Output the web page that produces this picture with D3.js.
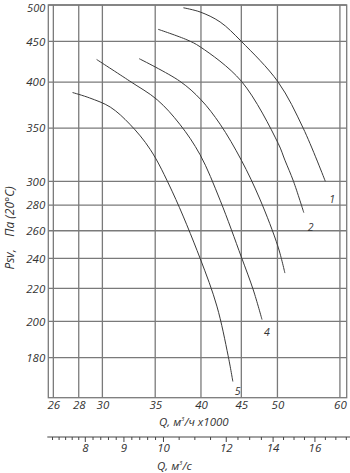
<!DOCTYPE html>
<html>
<head>
<meta charset="utf-8">
<script src="https://cdn.jsdelivr.net/npm/d3@7"></script>
<style>
  html, body { margin: 0; padding: 0; background: #fff; }
  text { font-family: "Open Sans", "DejaVu Sans", sans-serif; font-style: italic; fill: #333; }
</style>
</head>
<body>
<div id="chart"></div>
<script>
// Q in thousand m3/h, P in Pa
const curve1Q = [38.0, 39.9, 42.3, 45.0, 50.1, 53.9, 57.5];
const curve1P = [496, 490, 476, 450, 400, 350, 300];
const curve2Q = [35.3, 38.4, 39.9, 45.0, 50.1, 51.1, 52.4, 54.0];
const curve2P = [466, 452, 443, 401, 335, 319, 300, 274];
const curve3Q = [33.4, 37.6, 40.0, 42.3, 45.0, 47.5, 50.1, 51.1];
const curve3P = [428, 401, 380, 354, 319, 285, 248, 230];
const curve4Q = [29.5, 32.5, 35.2, 37.6, 39.9, 42.3, 45.0, 46.6, 47.8];
const curve4P = [427, 401, 380, 354, 324, 284, 241, 219, 201];
const curve5Q = [27.5, 28.9, 30.7, 32.5, 34.5, 36.8, 39.9, 41.9, 43.3, 43.9];
const curve5P = [388, 382, 372, 354, 329, 291, 240, 209, 181, 168];
const curveNames = ["1", "2", "", "4", "5"];

const xTicks = [26, 28, 30, 35, 40, 45, 50, 60];
const yTicks = [180, 200, 220, 240, 260, 280, 300, 350, 400, 450, 500];

// second scale, m3/s, and where its ticks sit on the main Q axis
const secTicks = [8, 9, 10, 12, 14, 16];
const secRefValues = [7, 8, 9, 10, 12, 14, 16];
const secRefQ = [25.9, 28.5, 31.9, 35.8, 43.0, 49.3, 55.7];

const width = 350, height = 473;
const plotLeft = 48.3, plotRight = 346.7, plotTop = 5, plotBottom = 397.7;

const svg = d3.select("#chart").append("svg")
    .attr("width", width)
    .attr("height", height);

const x = d3.scaleLog().domain([25.62, 61.2]).range([plotLeft, plotRight]);
const y = d3.scaleLog().domain([160.3, 500]).range([plotBottom, plotTop]);

const gridColor = "#7a7a7a";

// grid
svg.append("g").selectAll("line")
    .data(xTicks)
    .join("line")
    .attr("x1", d => x(d)).attr("x2", d => x(d))
    .attr("y1", plotTop).attr("y2", plotBottom)
    .attr("stroke", gridColor).attr("stroke-width", 1.3);

svg.append("g").selectAll("line")
    .data(yTicks)
    .join("line")
    .attr("x1", plotLeft).attr("x2", plotRight)
    .attr("y1", d => y(d)).attr("y2", d => y(d))
    .attr("stroke", gridColor).attr("stroke-width", 1.3);

svg.append("rect")
    .attr("x", plotLeft).attr("y", plotTop)
    .attr("width", plotRight - plotLeft).attr("height", plotBottom - plotTop)
    .attr("fill", "none").attr("stroke", gridColor).attr("stroke-width", 1.3);

// axes labels
const yAxis = svg.append("g")
    .attr("transform", `translate(${plotLeft},0)`)
    .call(d3.axisLeft(y).tickValues(yTicks).tickSize(0).tickPadding(3).tickFormat(d3.format("d")));
yAxis.select(".domain").remove();
yAxis.selectAll("text").attr("font-size", 11.5).attr("font-family", null);
// top label sits right at the edge, keep it inside
yAxis.selectAll(".tick").filter(d => d === 500).select("text").attr("dy", "0.62em").attr("font-size", 11);

const xAxis = svg.append("g")
    .attr("transform", `translate(0,${plotBottom})`)
    .call(d3.axisBottom(x).tickValues(xTicks).tickSize(0).tickPadding(3).tickFormat(d3.format("d")));
xAxis.select(".domain").remove();
xAxis.selectAll("text").attr("font-size", 11.5).attr("font-family", null);

// curves
const curves = [
    [curve1Q, curve1P], [curve2Q, curve2P], [curve3Q, curve3P],
    [curve4Q, curve4P], [curve5Q, curve5P]
].map(([q, p], i) => ({ name: curveNames[i], points: q.map((v, j) => [v, p[j]]) }));

const line = d3.line()
    .x(d => x(d[0]))
    .y(d => y(d[1]))
    .curve(d3.curveCatmullRom.alpha(0.5));

svg.append("g").selectAll("path")
    .data(curves)
    .join("path")
    .attr("d", d => line(d.points))
    .attr("fill", "none")
    .attr("stroke", "#3a3a3a")
    .attr("stroke-width", 1);

const labelOffsets = [[4, 22], [4, 18], [0, 0], [2, 16], [2, 13]];
svg.append("g").selectAll("text")
    .data(curves)
    .join("text")
    .attr("x", (d, i) => x(d.points[d.points.length - 1][0]) + labelOffsets[i][0])
    .attr("y", (d, i) => y(d.points[d.points.length - 1][1]) + labelOffsets[i][1])
    .attr("font-size", 10.5)
    .text(d => d.name);

// axis titles
const xTitle = svg.append("text")
    .attr("x", 159).attr("y", 426)
    .attr("font-size", 11.5);
xTitle.append("tspan").text("Q, м");
xTitle.append("tspan").attr("font-size", 6).attr("dy", -5).text("3");
xTitle.append("tspan").attr("dy", 5).text("/ч x1000");

svg.append("text")
    .attr("transform", "translate(14,228) rotate(-90)")
    .attr("text-anchor", "middle")
    .attr("font-size", 12)
    .style("white-space", "pre")
    .text("Psv,    Па (20°C)");

// m3/s scale
const secY = 437;
const sec = d3.scaleLinear()
    .domain(secRefValues)
    .range(secRefQ.map(q => x(q)));

const minorTicks = d3.range(7, 10, 0.2).concat(d3.range(10, 17.6, 0.5))
    .filter(v => !secTicks.some(t => Math.abs(t - v) < 1e-6));

svg.append("line")
    .attr("x1", plotLeft - 1).attr("x2", width)
    .attr("y1", secY).attr("y2", secY)
    .attr("stroke", "#444").attr("stroke-width", 1);

const secMinor = svg.append("g")
    .attr("transform", `translate(0,${secY})`)
    .call(d3.axisBottom(sec).tickValues(minorTicks).tickSize(3).tickFormat(""));
secMinor.select(".domain").remove();
secMinor.selectAll("line").attr("stroke", "#444");

const secMajor = svg.append("g")
    .attr("transform", `translate(0,${secY})`)
    .call(d3.axisBottom(sec).tickValues(secTicks).tickSize(5).tickPadding(2).tickFormat(d3.format("d")));
secMajor.select(".domain").remove();
secMajor.selectAll("line").attr("stroke", "#444");
secMajor.selectAll("text").attr("font-size", 11.5).attr("font-family", null);

const secTitle = svg.append("text")
    .attr("x", 157).attr("y", 470)
    .attr("font-size", 11.5);
secTitle.append("tspan").text("Q, м");
secTitle.append("tspan").attr("font-size", 6).attr("dy", -5).text("3");
secTitle.append("tspan").attr("dy", 5).text("/с");
</script>
</body>
</html>
